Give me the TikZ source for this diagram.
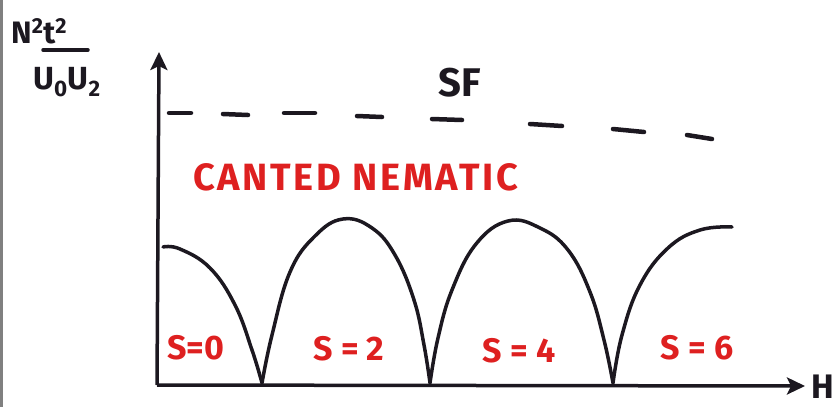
\documentclass[tikz,border=0pt]{standalone}
\usepackage{fontspec}
\setmainfont{Fira Sans}
\usetikzlibrary{arrows.meta}
\definecolor{inkred}{RGB}{222,32,32}
\definecolor{ink}{RGB}{28,24,32}

\begin{document}
\begin{tikzpicture}[x=1pt, y=-1pt,
    axis_line/.style={line width=3.5pt, ink, -{Stealth[length=18pt, width=17pt, inset=4pt]}},
    curve_line/.style={line width=3.5pt, ink, line cap=round, line join=round},
    sf_dash/.style={line width=4.5pt, ink, line cap=round},
    phase_label/.style={font=\fontsize{38}{40}\selectfont\bfseries\addfontfeature{LetterSpace=7}, text=inkred, inner sep=0pt},
    sector_label/.style={font=\fontsize{34}{36}\selectfont\bfseries, text=inkred, inner sep=0pt},
    axis_label/.style={font=\fontsize{32}{34}\selectfont\bfseries, text=ink, inner sep=0pt}
]
\useasboundingbox (0,0) rectangle (837,407);

% left frame edge
\draw[gray, line width=2.5pt] (1.25,0) -- (1.25,407);

% axes
\coordinate (O) at (157,385);
\coordinate (ytip) at (159,52);
\coordinate (xtip) at (805,386);
\draw[axis_line] (O) -- (ytip);
\draw[axis_line] (O) -- (xtip);

\node[axis_label, font=\fontsize{34}{36}\selectfont\bfseries] (hlabel) at (823,387) {H};

% vertical axis label
\node[axis_label, anchor=base west, font=\fontsize{31}{33}\selectfont\bfseries] (num) at (11,43) {N\textsuperscript{2}t\textsuperscript{2}};
\draw[line width=3.5pt, ink, line cap=round] (43,50) -- (88,50);
\node[axis_label] (den) at (67,82) {U\textsubscript{0}U\textsubscript{2}};

% superfluid boundary
\node[axis_label, font=\fontsize{40}{42}\selectfont\bfseries] (sf) at (460,83) {SF};
\foreach \xa/\ya/\xb/\yb in {169/113/191/113, 223/114/248/115, 284/113/315/113, 357/116/382/117,
                             432/119/462/120, 530/124/562/126, 613/129/644/132, 687/135/712/139}
  \draw[sf_dash] (\xa,\ya) -- (\xb,\yb);

\node[phase_label, anchor=west] (canted) at (193,177) {CANTED NEMATIC};

% nematic lobes, cusps at the level crossings
\draw[curve_line] plot[smooth, tension=0.7] coordinates {(163,247) (180,249) (210,268) (235,305) (252,350) (262,383)};
\draw[curve_line] plot[smooth, tension=0.7] coordinates {(262,383) (272,335) (290,272) (315,236) (343,219) (372,228) (395,255) (414,300) (424,345) (430,383)};
\draw[curve_line] plot[smooth, tension=0.7] coordinates {(430,383) (438,338) (452,290) (476,244) (508,221) (540,228) (568,250) (590,292) (604,340) (613,383)};
\draw[curve_line] plot[smooth, tension=0.7] coordinates {(613,383) (622,335) (640,285) (668,248) (700,230) (732,227)};

% spin sectors
\node[sector_label] (s0) at (196,348) {S=0};
\node[sector_label] (s2) at (349,349) {S = 2};
\node[sector_label] (s4) at (519,351) {S = 4};
\node[sector_label] (s6) at (697,348) {S = 6};

\end{tikzpicture}
\end{document}
